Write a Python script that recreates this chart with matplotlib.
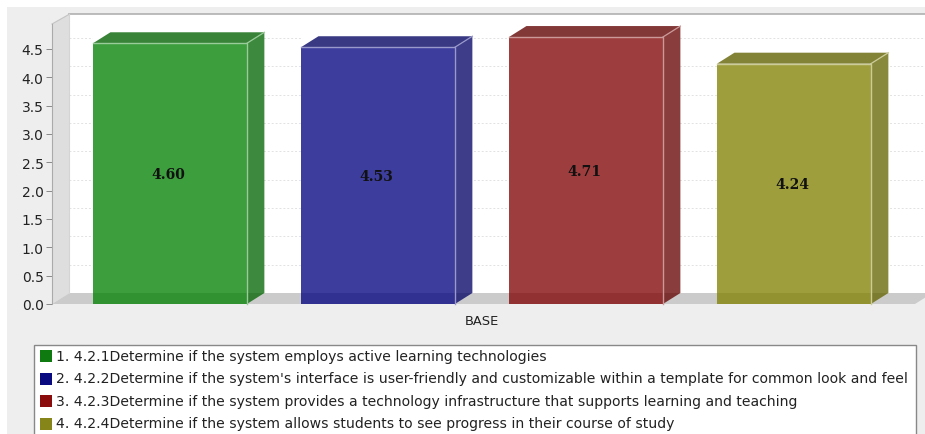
import matplotlib
matplotlib.use('Agg')
import matplotlib.pyplot as plt
from matplotlib.patches import Polygon, Rectangle
from matplotlib.colors import to_rgb

# data
values = [4.60, 4.53, 4.71, 4.24]
value_labels = ['4.60', '4.53', '4.71', '4.24']
colors = ['#008000', '#000080', '#800000', '#808000']
legend_colors = ['#0f7a0f', '#0a0a80', '#8a0c0c', '#85851a']
legend_labels = [
    "1. 4.2.1Determine if the system employs active learning technologies",
    "2. 4.2.2Determine if the system's interface is user-friendly and customizable within a template for common look and feel",
    "3. 4.2.3Determine if the system provides a technology infrastructure that supports learning and teaching",
    "4. 4.2.4Determine if the system allows students to see progress in their course of study",
]
yticks = [0.0, 0.5, 1.0, 1.5, 2.0, 2.5, 3.0, 3.5, 4.0, 4.5]
category = 'BASE'

W, H = 925, 435
fig = plt.figure(figsize=(W / 100, H / 100), dpi=100, facecolor='white')

# page background and legend live in a pixel-coordinate layer
bg = fig.add_axes([0, 0, 1, 1])
bg.set_xlim(0, W)
bg.set_ylim(H, 0)
bg.axis('off')
bg.add_patch(Rectangle((7, 8), W - 7, H - 8, fc='#eeeeee', ec='none'))

# main axes = front plane of the 3D box
left, right, bottom, top = 52, 915, 305, 25
ax = fig.add_axes([left / W, 1 - bottom / H, (right - left) / W, (bottom - top) / H])
ax.patch.set_visible(False)
ax.set_xlim(-0.567, 3.582)
ax.set_ylim(0, 4.94)
for s in ['top', 'right', 'bottom']:
    ax.spines[s].set_visible(False)
ax.spines['left'].set_color('#aaaaaa')
ax.spines['left'].set_linewidth(0.8)

dx = 0.084   # depth of the fake 3D in x units
dy = 0.194   # and in y units
x0, x1 = ax.get_xlim()
y1 = ax.get_ylim()[1]
bar_w = 0.74

# back wall, side wall, floor
ax.add_patch(Polygon([(x0 + dx, dy), (x1 + 0.1, dy), (x1 + 0.1, y1 + dy - 0.02), (x0 + dx, y1 + dy - 0.02)],
                     fc='white', ec='none', clip_on=False, zorder=1))
ax.add_patch(Polygon([(x0, 0), (x0 + dx, dy), (x0 + dx, y1 + dy - 0.02), (x0, y1)],
                     fc='#dedede', ec='none', clip_on=False, zorder=1))
ax.add_patch(Polygon([(x0, 0), (x1, 0), (x1 + dx, dy), (x0 + dx, dy)],
                     fc='#cbcbcb', ec='none', clip_on=False, zorder=1.5))
ax.plot([x0 + dx, x1 + 0.1], [y1 + dy - 0.02] * 2, color='#b0b0b0', lw=1.2, clip_on=False, zorder=2)
ax.plot([x0, x0 + dx], [y1, y1 + dy - 0.02], color='#c4c4c4', lw=0.8, clip_on=False, zorder=2)
ax.plot([x0 + dx, x0 + dx], [dy, y1 + dy - 0.02], color='#d4d4d4', lw=0.8, clip_on=False, zorder=2)

# gridlines on the back wall
for t in yticks[1:]:
    ax.plot([x0 + dx, x1 + 0.1], [t + dy, t + dy], color='#e2e2e2', lw=0.7,
            ls=(0, (2, 2)), clip_on=False, zorder=1.2)

def shade(c, f):
    r, g, b = to_rgb(c)
    return (r * f, g * f, b * f)

for i, (v, c, lab) in enumerate(zip(values, colors, value_labels)):
    l, r = i - bar_w / 2, i + bar_w / 2
    # white backing so gridlines don't show through the translucent bars
    ax.add_patch(Rectangle((l, dy), bar_w + dx, v, fc='white', ec='none', clip_on=False, zorder=2.5))
    # top face
    ax.add_patch(Polygon([(l, v), (r, v), (r + dx, v + dy), (l + dx, v + dy)],
                         fc=shade(c, 0.75), alpha=0.78, ec='none', clip_on=False, zorder=3))
    # right face
    ax.add_patch(Polygon([(r, 0), (r + dx, dy), (r + dx, v + dy), (r, v)],
                         fc=shade(c, 0.78), alpha=0.76, ec='none', clip_on=False, zorder=3))
    # front face
    ax.add_patch(Rectangle((l, 0), bar_w, v, fc=c, alpha=0.76, ec='none', clip_on=False, zorder=3))
    # light outline
    edge = tuple(0.6 + 0.4 * k for k in to_rgb(c))
    ax.plot([l, r, r], [v, v, 0], color=edge, lw=1.0, clip_on=False, zorder=4)
    ax.plot([r, r + dx], [v, v + dy], color=edge, lw=0.9, clip_on=False, zorder=4)
    ax.text(i - 0.007, v / 2, lab, ha='center', va='center', fontsize=10,
            family='DejaVu Serif', fontweight='bold', color='#111111', zorder=5)

ax.set_yticks(yticks)
ax.set_yticklabels([f'{t:.1f}' for t in yticks], fontsize=10, color='#222222')
ax.tick_params(axis='y', length=4, width=0.7, color='#888888', pad=2)
ax.set_xticks([1.5])
ax.set_xticklabels([category], fontsize=9.4, color='#222222')
ax.tick_params(axis='x', length=0, pad=7)

# legend
bg.add_patch(Rectangle((33.5, 345.5), 882, 95, fc='white', ec='#888888', lw=1, zorder=2))
row_y = [357, 379.5, 402, 424.5]
for y, c, txt in zip(row_y, legend_colors, legend_labels):
    bg.add_patch(Rectangle((39.5, y - 6), 12, 12, fc=c, ec='none', zorder=3))
    bg.text(55.5, y, txt, fontsize=10.1, va='center', ha='left', color='#222222', zorder=3)

fig.savefig('out.png', dpi=100)
